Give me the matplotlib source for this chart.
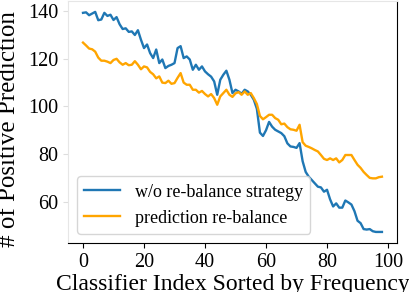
import matplotlib
matplotlib.use("Agg")
import matplotlib.pyplot as plt
import numpy as np

plt.rcParams['font.family'] = ['Liberation Serif', 'DejaVu Serif']

blue_vals = [139.3, 139.5, 138.3, 139.0, 139.7, 136.2, 136.5, 139.3, 138.0, 138.5,
             136.3, 137.5, 134.5, 132.5, 132.8, 131.3, 131.5, 130.0, 132.0, 128.0,
             124.5, 126.0, 122.4, 120.3, 123.9, 118.2, 119.7, 116.1, 117.0, 117.5,
             118.2, 124.5, 125.3, 120.3, 121.0, 119.7, 115.4, 117.5, 115.4, 116.8,
             114.7, 113.5, 112.5, 110.5, 104.9, 111.2, 113.3, 115.0, 111.2, 105.6,
             107.0, 106.3, 105.3, 107.0, 106.3, 104.9, 102.8, 99.0, 89.0, 87.6,
             90.0, 93.5, 91.5, 90.2, 89.5, 88.8, 87.5, 84.5, 83.2, 83.0,
             82.6, 84.6, 77.0, 72.5, 70.5, 69.1, 67.7, 66.3, 66.0, 64.2,
             65.0, 61.0, 58.0, 59.3, 57.5, 57.5, 60.5, 59.7, 58.8, 56.0,
             52.0, 51.0, 48.5, 48.3, 48.5, 47.6, 47.3, 47.3, 47.3]

orange_vals = [126.8, 125.6, 124.3, 124.0, 123.0, 120.5, 119.2, 119.2, 118.8, 118.2,
               119.5, 120.0, 118.5, 117.5, 118.2, 117.3, 117.5, 119.0, 117.5, 115.6,
               116.8, 116.4, 114.5, 113.5, 111.8, 112.6, 110.0, 109.8, 110.8, 109.5,
               109.8, 112.0, 114.0, 110.0, 109.1, 109.1, 107.0, 107.0, 105.8, 106.5,
               105.2, 104.2, 105.2, 103.5, 100.7, 104.2, 105.6, 107.0, 104.9, 104.0,
               105.5, 106.0, 104.9, 106.3, 104.9, 105.6, 103.5, 101.0, 96.0, 94.6,
               95.5, 96.5, 96.5, 95.1, 94.4, 92.5, 92.8, 91.3, 90.4, 90.2,
               89.8, 92.3, 85.0, 83.5, 83.0, 82.4, 81.7, 81.1, 79.6, 78.0,
               77.5, 78.2, 77.5, 78.2, 76.5, 77.5, 79.6, 79.6, 79.6, 77.5,
               75.5, 74.2, 72.5, 71.2, 70.0, 69.8, 69.8, 70.3, 70.5]

labels = ["w/o re-balance strategy", "prediction re-balance"]
xticks = [0, 20, 40, 60, 80, 100]
yticks = [60, 80, 100, 120, 140]

x = np.arange(len(blue_vals))

fig = plt.figure(figsize=(4.10, 2.92), dpi=100)
ax = fig.add_axes([0.166, 0.168, 0.802, 0.829])
ax.plot(x, blue_vals, color='#1f77b4', lw=1.7, label=labels[0])
ax.plot(x, orange_vals, color='orange', lw=1.7, label=labels[1])

ax.set_xticks(xticks)
ax.set_yticks(yticks)
ax.tick_params(axis='both', labelsize=14.5)
ax.tick_params(axis='y', color='#dddddd')
for s in ['left', 'top']:
    ax.spines[s].set_color('#e6e6e6')
for s in ['bottom', 'right']:
    ax.spines[s].set_color('black')

ax.set_xlabel("Classifier Index Sorted by Frequency", fontsize=17, labelpad=2)
ax.set_ylabel("# of Positive Prediction", fontsize=18)
ax.yaxis.set_label_coords(-0.145, 0.47)
ax.legend(loc='lower left', fontsize=13)

fig.savefig("out.png", dpi=100)
